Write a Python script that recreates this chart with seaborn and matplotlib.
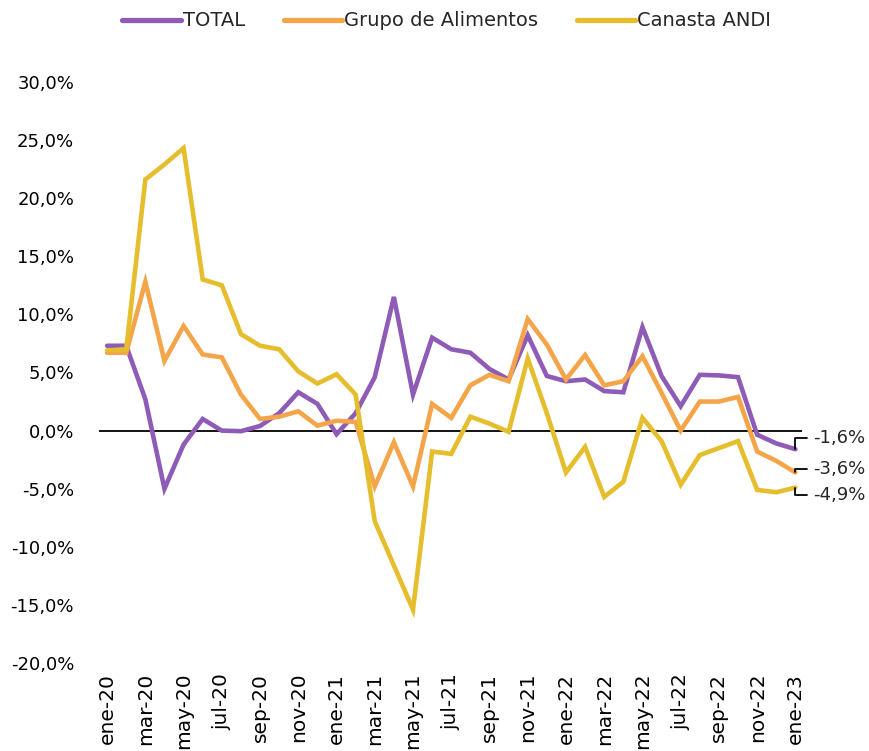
"""
Variación anual de precios: TOTAL, Grupo de Alimentos y Canasta ANDI.
"""

import matplotlib
matplotlib.use('Agg')
import matplotlib.pyplot as plt
import seaborn as sns
import numpy as np
import pandas as pd

# months ene-20 .. ene-23
meses = ['ene', 'feb', 'mar', 'abr', 'may', 'jun', 'jul', 'ago', 'sep', 'oct', 'nov', 'dic']
fechas = [f'{m}-{a}' for a in (20, 21, 22) for m in meses] + ['ene-23']

total = [7.3, 7.3, 2.7, -5.0, -1.2, 1.0, 0.0, -0.05, 0.4, 1.5, 3.3, 2.3,
         -0.3, 1.5, 4.6, 11.5, 3.1, 8.0, 7.0, 6.7, 5.3, 4.4, 8.2, 4.7,
         4.25, 4.4, 3.4, 3.3, 8.9, 4.7, 2.1, 4.8, 4.75, 4.6, -0.35, -1.1, -1.6]
alimentos = [6.7, 6.7, 12.8, 6.0, 9.0, 6.55, 6.3, 3.1, 1.0, 1.2, 1.66, 0.43,
             0.85, 0.75, -4.8, -1.0, -4.8, 2.3, 1.1, 3.9, 4.8, 4.25, 9.6, 7.4,
             4.4, 6.5, 3.9, 4.25, 6.4, 3.25, 0.0, 2.5, 2.5, 2.9, -1.8, -2.6, -3.6]
canasta = [6.9, 7.0, 21.6, 22.9, 24.3, 13.0, 12.5, 8.3, 7.3, 7.0, 5.1, 4.05,
           4.85, 3.1, -7.8, -11.6, -15.4, -1.8, -2.0, 1.2, 0.6, -0.1, 6.2, 1.5,
           -3.6, -1.4, -5.7, -4.4, 1.1, -0.9, -4.65, -2.1, -1.5, -0.9, -5.1, -5.3, -4.9]

series = ['TOTAL', 'Grupo de Alimentos', 'Canasta ANDI']
colores = ['#8E5BB6', '#F4A54A', '#E6BD2C']

df = pd.DataFrame({
    'idx': list(range(len(fechas))) * 3,
    'valor': total + alimentos + canasta,
    'serie': np.repeat(series, len(fechas)),
})

sns.set_style('white')
plt.rcParams['font.family'] = ['DejaVu Sans']

fig = plt.figure(figsize=(8.69, 7.51), dpi=100)
ax = fig.add_axes([0.114, 0.117, 0.809, 0.774])

sns.lineplot(data=df, x='idx', y='valor', hue='serie', hue_order=series,
             palette=colores, linewidth=3.3, legend=False, ax=ax)
for ln in ax.get_lines():
    ln.set_solid_joinstyle('miter')

ax.axhline(0, color='black', linewidth=1.3, zorder=1)

ax.set_xlim(-0.42, 36.35)
ax.set_ylim(-20, 30)
ax.set_yticks(np.arange(-20, 31, 5))
ax.set_yticklabels([f'{v:.1f}%'.replace('.', ',') for v in np.arange(-20, 31, 5)])
ax.set_xticks(range(0, len(fechas), 2))
ax.set_xticklabels(fechas[::2], rotation=90)
ax.tick_params(axis='both', length=0, labelsize=13, colors='black')
ax.tick_params(axis='x', pad=7, labelsize=14.5)
ax.tick_params(axis='y', pad=18)
ax.set_xlabel('')
ax.set_ylabel('')
sns.despine(ax=ax, left=True, bottom=True)

# end labels with leader lines
ultimos = [total[-1], alimentos[-1], canasta[-1]]
offsets = [11, 3, -7]
n = len(fechas) - 1
for v, dy in zip(ultimos, offsets):
    ax.annotate(f'{v:.1f}%'.replace('.', ','), xy=(n, v),
                xytext=(18, dy), textcoords='offset pixels',
                ha='left', va='center', fontsize=13,
                arrowprops=dict(arrowstyle='-', color='black', lw=1.3,
                                shrinkA=2, shrinkB=0, relpos=(0, 0.5),
                                connectionstyle='angle,angleA=0,angleB=90,rad=0'))

handles = ax.get_lines()[:3]
leg = fig.legend(handles, series, loc='upper center', bbox_to_anchor=(0.514, 1.008),
                 ncol=3, frameon=False, fontsize=14, handlelength=3.0,
                 handletextpad=0.1, columnspacing=2.0)
for h in leg.get_lines():
    h.set_linewidth(3.8)
    h.set_solid_capstyle('round')

fig.savefig('out.png', dpi=100)
plt.close(fig)
